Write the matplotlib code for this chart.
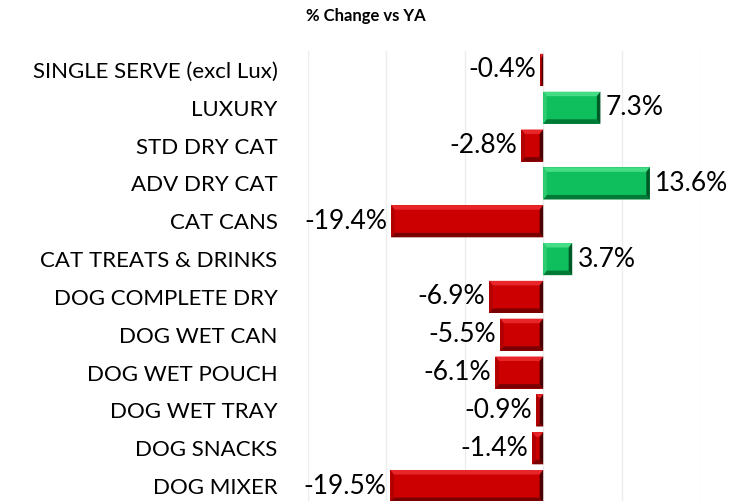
import numpy as np
import matplotlib.pyplot as plt
from matplotlib.patches import Polygon

categories = ["SINGLE SERVE (excl Lux)", "LUXURY", "STD DRY CAT", "ADV DRY CAT",
              "CAT CANS", "CAT TREATS & DRINKS", "DOG COMPLETE DRY", "DOG WET CAN",
              "DOG WET POUCH", "DOG WET TRAY", "DOG SNACKS", "DOG MIXER"]
values = [-0.4, 7.3, -2.8, 13.6, -19.4, 3.7, -6.9, -5.5, -6.1, -0.9, -1.4, -19.5]
title = "% Change vs YA"

plt.rcParams['font.family'] = ['Lato', 'DejaVu Sans']

fig = plt.figure(figsize=(7.43, 5.01), dpi=100)
ax = fig.add_axes([308/743, -4/501, 392/743, 454/501])

h = 0.85
pos = np.arange(len(values))

# bevel colours: face, top, bottom, left, right
red = ["#CC0000", "#E8262A", "#7A0000", "#B00000", "#4A0000"]
green = ["#0FBE5C", "#44DC85", "#007A35", "#2ECC70", "#005A28"]

ax.barh(pos, values, height=h, color=[red[0] if v < 0 else green[0] for v in values], zorder=2)

bx = 0.45  # bevel width in data units (x)
by = 0.12  # bevel width in rows (y)
for y, v in zip(pos, values):
    c = red if v < 0 else green
    x0, x1 = min(0, v), max(0, v)
    t, b = y - h/2, y + h/2
    dx = min(bx, (x1 - x0) / 2)
    # top, bottom, left, right trapezoids
    ax.add_patch(Polygon([(x0, t), (x1, t), (x1 - dx, t + by), (x0 + dx, t + by)], color=c[1], lw=0, zorder=3))
    ax.add_patch(Polygon([(x0, b), (x1, b), (x1 - dx, b - by), (x0 + dx, b - by)], color=c[2], lw=0, zorder=3))
    ax.add_patch(Polygon([(x0, t), (x0 + dx, t + by), (x0 + dx, b - by), (x0, b)], color=c[3], lw=0, zorder=3))
    ax.add_patch(Polygon([(x1, t), (x1 - dx, t + by), (x1 - dx, b - by), (x1, b)], color=c[4], lw=0, zorder=3))
    lab = f"{v:.1f}%"
    if v < 0:
        ax.annotate(lab, (v, y), xytext=(-3, 0), textcoords="offset points",
                    ha="right", va="center", fontsize=19, color="black", zorder=4)
    else:
        ax.annotate(lab, (v, y), xytext=(4, 0), textcoords="offset points",
                    ha="left", va="center", fontsize=19, color="black", zorder=4)

ax.set_xlim(-30, 20)
ax.set_ylim(len(values) - 0.5, -0.5)
ax.set_xticks(np.arange(-30, 21, 10))
ax.set_xticklabels([])
ax.tick_params(axis="x", length=0)
ax.grid(axis="x", color="#EDEDED", lw=1, zorder=0)
ax.set_axisbelow(True)
ax.set_yticks(pos)
ax.set_yticklabels(categories, fontsize=16, color="black")
ax.tick_params(axis="y", length=0, pad=22)
for s in ax.spines.values():
    s.set_visible(False)

fig.text(366/743, 1 - 16/501, title, ha="center", va="center", fontsize=12, fontweight="bold")

fig.savefig("out.png", dpi=100)
